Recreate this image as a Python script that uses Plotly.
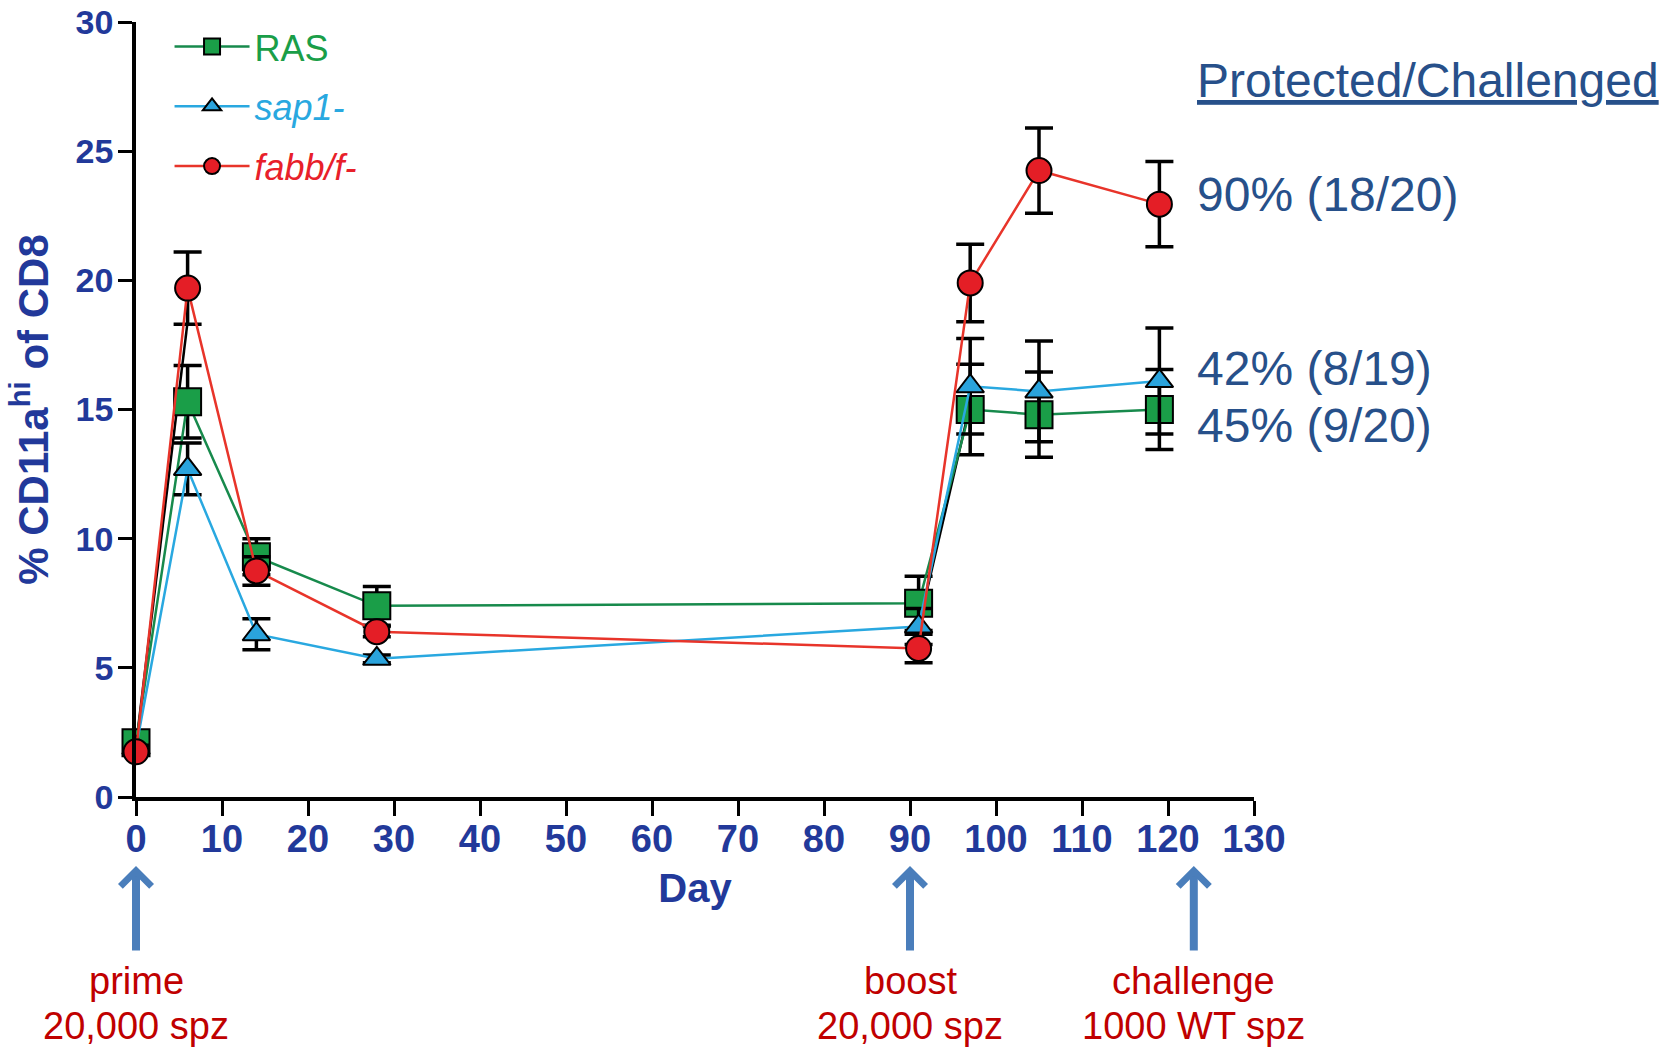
import plotly.graph_objects as go

# ---------------- data ----------------
days = [0, 6, 14, 28, 91, 97, 105, 119]

ras_mean = [2.1, 15.3, 9.3, 7.4, 7.5, 15.0, 14.8, 15.0]
ras_err = [0.2, 1.4, 0.7, 0.75, 1.05, 1.75, 1.65, 1.55]

sap1_mean = [1.9, 12.7, 6.3, 5.35, 6.6, 15.9, 15.7, 16.1]
sap1_err = [0.1, 1.0, 0.6, 0.15, 0.7, 1.85, 1.95, 2.05]

fabb_mean = [1.75, 19.7, 8.75, 6.4, 5.75, 19.9, 24.25, 22.95]
fabb_err = [0.1, 1.4, 0.55, 0.2, 0.55, 1.5, 1.65, 1.65]

# black connector segments visible in the original figure
conn_days = [0, 6, None, 91, 97]
conn_vals = [2.0, 18.4, None, 6.6, 15.2]

x_ticks = [0, 10, 20, 30, 40, 50, 60, 70, 80, 90, 100, 110, 120, 130]
y_ticks = [0, 5, 10, 15, 20, 25, 30]

events_day = [0, 90, 123]
events_line1 = ["prime", "boost", "challenge"]
events_line2 = ["20,000 spz", "20,000 spz", "1000 WT spz"]

protection_labels = ["90% (18/20)", "42% (8/19)", "45% (9/20)"]
protection_ypos = [0.778, 0.553, 0.480]

FONT = "Liberation Sans, Arial, sans-serif"
AXIS_BLUE = "#22399a"
TEXT_BLUE = "#27508a"
RED_TXT = "#c00000"

fig = go.Figure()

fig.add_trace(go.Scatter(
    x=conn_days, y=conn_vals, mode="lines",
    line=dict(color="black", width=2.5), showlegend=False,
    hoverinfo="skip", cliponaxis=False,
))

series = [
    ("<span style='color:#1a9e48'>RAS</span>", ras_mean, ras_err, "#178a4c", "#1a9e48", "square", 27),
    ("<span style='color:#29a8e0'><i>sap1-</i></span>", sap1_mean, sap1_err, "#29a8e0", "#2aa3dc", "triangle-up", 24),
    ("<span style='color:#e8202a'><i>fabb/f-</i></span>", fabb_mean, fabb_err, "#e8342a", "#e41e26", "circle", 25),
]

for i, (name, m, e, lc, fc, sym, sz) in enumerate(series):
    fig.add_trace(go.Scatter(
        x=days, y=m, name=name, mode="lines+markers",
        line=dict(color=lc, width=2.5),
        marker=dict(symbol=sym, size=sz, color=fc, line=dict(color="black", width=2)),
        error_y=dict(type="data", array=e, visible=True, color="black", thickness=3.5, width=14),
        cliponaxis=False, legendgroup=f"g{i}",
    ))

fig.update_layout(
    template="none",
    width=1666, height=1047,
    margin=dict(l=136, r=412, t=22, b=250, autoexpand=False),
    paper_bgcolor="white", plot_bgcolor="white",
    font=dict(family=FONT),
    showlegend=True,
    legend=dict(
        x=0.03, y=1.007, xanchor="left", yanchor="top",
        font=dict(size=36, family=FONT),
        bgcolor="rgba(0,0,0,0)", itemwidth=75,
        tracegroupgap=10, traceorder="grouped",
    ),
    xaxis=dict(
        range=[0, 130], tickvals=x_ticks, showgrid=False, zeroline=False,
        automargin=False,
        showline=True, linecolor="black", linewidth=3.5,
        ticks="outside", ticklen=15, tickwidth=3, tickcolor="black",
        ticklabelstandoff=-9,
        tickfont=dict(size=38, color=AXIS_BLUE, family=FONT, weight="bold"),
        title=dict(text="Day", font=dict(size=40, color=AXIS_BLUE, family=FONT, weight="bold"), standoff=16),
    ),
    yaxis=dict(
        range=[0, 30], tickvals=y_ticks, showgrid=False, zeroline=False,
        automargin=False,
        showline=True, linecolor="black", linewidth=3.5,
        ticks="outside", ticklen=14, tickwidth=3, tickcolor="black",
        ticklabelstandoff=-2,
        tickfont=dict(size=34, color=AXIS_BLUE, family=FONT, weight="bold"),
        title=dict(text="% CD11a<sup>hi</sup> of CD8",
                   font=dict(size=42, color=AXIS_BLUE, family=FONT, weight="bold"), standoff=15),
    ),
)

# header on right
fig.add_annotation(
    text="<u>Protected/Challenged</u>", xref="paper", yref="paper",
    x=0.947, y=0.925, xanchor="left", yanchor="middle", showarrow=False,
    font=dict(size=48, color=TEXT_BLUE, family=FONT),
)
for lab, yp in zip(protection_labels, protection_ypos):
    fig.add_annotation(
        text=lab, xref="paper", yref="paper", x=0.947, y=yp,
        xanchor="left", yanchor="middle", showarrow=False,
        font=dict(size=48, color=TEXT_BLUE, family=FONT),
    )

# event arrows (carrying the first label line) and second label lines
for d, t1, t2 in zip(events_day, events_line1, events_line2):
    fig.add_annotation(
        x=d, xref="x", y=-0.089, yref="paper", ax=0, ay=115, text=t1,
        showarrow=True, arrowhead=4, arrowsize=0.75, arrowwidth=8, arrowcolor="#4a7ebb",
        startstandoff=8,
        font=dict(size=38, color=RED_TXT, family=FONT),
    )
    fig.add_annotation(
        x=d, xref="x", y=-0.2955, yref="paper", text=t2, showarrow=False,
        xanchor="center", yanchor="middle", align="center",
        font=dict(size=38, color=RED_TXT, family=FONT),
    )

fig.write_html(
    "out.html",
    config={"displayModeBar": False},
    post_script="document.body.style.margin='0';document.body.style.overflow='hidden';",
)
